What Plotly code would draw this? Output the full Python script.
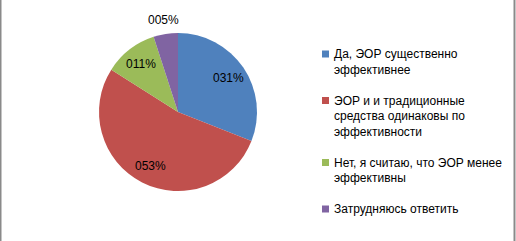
import math
import plotly.graph_objects as go

labels = [
    "Да, ЭОР существенно<br>эффективнее",
    "ЭОР и и традиционные<br>средства одинаковы по<br>эффективности",
    "Нет, я считаю, что ЭОР менее<br>эффективны",
    "Затрудняюсь ответить",
]
values = [31, 53, 11, 5]
text_labels = ["031%", "053%", "011%", "005%"]
colors = ["#4F81BD", "#C0504D", "#9BBB59", "#8064A2"]
label_outside = [False, False, False, True]

W, H = 516, 241
cx, cy, r = 178, 112, 79
FONT = "Liberation Sans"

fig = go.Figure(go.Pie(
    labels=[l.replace("<br>", " ") for l in labels],
    values=values,
    textinfo="none",
    sort=False,
    direction="clockwise",
    rotation=0,
    marker=dict(colors=colors, line=dict(width=0)),
    domain=dict(x=[(cx - r) / W, (cx + r) / W], y=[(H - cy - r) / H, (H - cy + r) / H]),
    hoverinfo="none",
    showlegend=False,
))

annotations = []
shapes = []

# slice labels, placed along each slice's mid-angle (like the reference's data labels)
total = sum(values)
cum = 0
for v, t, out in zip(values, text_labels, label_outside):
    mid = (cum + v / 2) / total * 2 * math.pi
    cum += v
    rr = r + 14 if out else 0.77 * r
    px = cx + rr * math.sin(mid)
    py = cy - rr * math.cos(mid)
    annotations.append(dict(
        x=px / W, y=1 - py / H, xref="paper", yref="paper",
        text=t, showarrow=False, xanchor="center", yanchor="middle",
        font=dict(family=FONT, size=12, color="black"),
    ))

# legend
line_step = 15.5
y_line = 54
for lab, col in zip(labels, colors):
    lines = lab.split("<br>")
    shapes.append(dict(
        type="rect", xref="paper", yref="paper",
        x0=322 / W, x1=329 / W, y0=1 - (y_line + 3.5) / H, y1=1 - (y_line - 3.5) / H,
        fillcolor=col, line=dict(width=0),
    ))
    for ln in lines:
        annotations.append(dict(
            x=332 / W, y=1 - y_line / H, xref="paper", yref="paper",
            text=ln, showarrow=False, xanchor="left", yanchor="middle",
            font=dict(family=FONT, size=12, color="black"),
        ))
        y_line += line_step
    y_line += line_step

# chart-area border lines visible at left/right edges
shapes.append(dict(type="line", xref="paper", yref="paper", x0=0.75 / W, x1=0.75 / W, y0=0, y1=1,
                   line=dict(color="#8A8A8A", width=1.5)))
shapes.append(dict(type="line", xref="paper", yref="paper", x0=514.5 / W, x1=514.5 / W, y0=0, y1=1,
                   line=dict(color="#8A8A8A", width=2)))

fig.update_layout(
    width=W, height=H,
    margin=dict(l=0, r=0, t=0, b=0),
    paper_bgcolor="white",
    font=dict(family=FONT, size=12, color="black"),
    annotations=annotations,
    shapes=shapes,
)

fig.write_html(
    "out.html",
    config={"displayModeBar": False, "staticPlot": True},
    post_script="document.body.style.margin='0';document.body.style.overflow='hidden';",
)
